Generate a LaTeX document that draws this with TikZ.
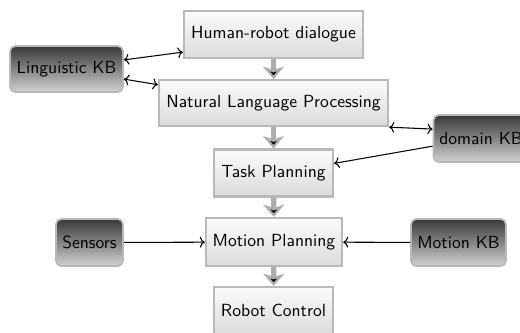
\documentclass[tikz,border=0pt]{standalone}
\usepackage{tikz}
\usetikzlibrary{positioning, arrows.meta}

\tikzset{
  block/.style={rectangle, draw=gray!55, line width=1.3pt, top color=gray!3, bottom color=gray!28,
                font=\sffamily, inner sep=2pt},
  kb/.style={rectangle, rounded corners=3pt, draw=gray!55, line width=1pt, top color=black!78,
             bottom color=black!18, font=\sffamily, inner sep=2pt, minimum height=0.94cm},
  flow/.style={draw=gray!65, line width=3pt, -{Stealth[length=7pt, width=12pt, inset=2pt]}},
  link/.style={semithick}
}

\begin{document}
\begin{tikzpicture}
        \clip (0,0) rectangle (10.4,-6.64);
        \useasboundingbox (0,0) rectangle (10.4,-6.64);

        \node[block, minimum width=3.58cm, minimum height=0.94cm] (hrd) at (5.47,-0.69) {Human-robot dialogue};
        \node[block, minimum width=4.58cm, minimum height=0.92cm] (nlp) at (5.47,-2.06) {Natural Language Processing};
        \node[block, minimum width=2.38cm, minimum height=0.94cm] (tp)  at (5.47,-3.46) {Task Planning};
        \node[block, minimum width=2.72cm, minimum height=0.96cm] (mp)  at (5.48,-4.84) {Motion Planning};
        \node[block, minimum width=2.38cm, minimum height=0.94cm] (rc)  at (5.47,-6.21) {Robot Control};

        \node[kb, minimum width=2.26cm, minimum height=0.92cm] (lkb) at (1.33,-1.38) {Linguistic KB};
        \node[kb, minimum width=1.90cm] (dkb) at (9.62,-2.77) {domain KB};
        \node[kb, minimum width=1.34cm] (sens) at (1.79,-4.85) {Sensors};
        \node[kb, minimum width=1.90cm] (mkb) at (9.17,-4.85) {Motion KB};

        \path[flow] (hrd) edge (nlp)
                    (nlp) edge (tp)
                    (tp)  edge (mp)
                    (mp)  edge (rc);

        \path[link] (lkb.9)   edge [<->] (hrd.191)
                    (lkb.350) edge [<->] (nlp.171)
                    (nlp.south east) edge [<->] (dkb.169)
                    (dkb.189) edge [->] (tp.9)
                    (sens)    edge [->] (mp)
                    (mkb)     edge [->] (mp);
    \end{tikzpicture}
\end{document}
